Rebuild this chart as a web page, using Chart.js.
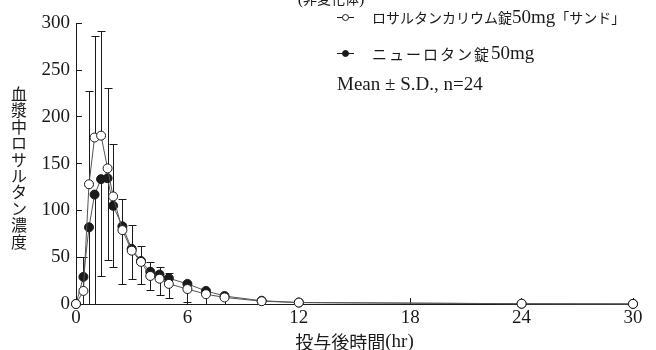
<!DOCTYPE html>
<html lang="ja">
<head>
<meta charset="utf-8">
<title>血漿中ロサルタン濃度</title>
<script src="https://cdn.jsdelivr.net/npm/chart.js@4.4.1/dist/chart.umd.min.js"></script>
<style>
  html, body { margin: 0; padding: 0; background: #fff; }
  canvas { display: block; }
</style>
</head>
<body>
<canvas id="pk_chart" width="656" height="350"></canvas>
<script>
// sampling times (hr)
const times = [0, 0.4, 0.7, 1, 1.35, 1.7, 2, 2.5, 3, 3.5, 4, 4.5, 5, 6, 7, 8, 10, 12, 24, 30];

// ロサルタンカリウム錠50mg「サンド」 (open circles, +SD)
const sandoMean = [0, 14, 128, 178, 180, 145, 115, 79, 57, 45, 30, 27, 21.5, 16, 10.5, 7, 3, 1.5, 0.3, 0.1];
const sandoSD = [0, 36, 100, 109, 112, 86, 56, 33, 27, 17, 15, 13, 12, 5, 3, 2, 1.5, 1, 0.3, 0.2];

// ニューロタン錠50mg (filled circles, -SD)
const neurotanMean = [0, 29, 82, 117, 133.5, 134.5, 105, 83, 59, 46, 34.5, 31.5, 27.5, 21.5, 14, 8.5, 3.5, 1.6, 0.3, 0.1];
const neurotanSD = [0, 32, 95, 125, 104, 87, 65, 62, 32, 25, 20, 21.5, 21, 19.5, 14, 8.5, 3, 1.5, 0.3, 0.2];

const xTicks = [0, 6, 12, 18, 24, 30];
const yTicks = [0, 50, 100, 150, 200, 250, 300];

const seriesLabels = ["ロサルタンカリウム錠50mg「サンド」", "ニューロタン錠50mg"];
const noteText = "Mean ± S.D., n=24";
const topTitle = "(非変化体)";
const xTitle = "投与後時間(hr)";
const yTitle = "血漿中ロサルタン濃度";

const latinFont = "'Liberation Serif', serif";
const cjkFont = "'Noto Sans CJK JP', sans-serif";
const ink = "#1a1a1a";

// write a string whose latin part is serif and japanese part is CJK
function drawMixed(ctx, text, x, y, opt) {
  const runs = text.match(/[\x20-\x7E±]+|[^\x20-\x7E±]+/g);
  const fontOf = (r) => (/^[\x20-\x7E±]/.test(r) ? opt.latin + "px " + latinFont : opt.cjk + "px " + cjkFont);
  const gap = opt.spacing || 0;
  const widthOf = (r) => {
    ctx.font = fontOf(r);
    if (/^[\x20-\x7E±]/.test(r)) return ctx.measureText(r).width;
    return [...r].reduce((w, ch) => w + ctx.measureText(ch).width + gap, 0);
  };
  const total = runs.reduce((w, r) => w + widthOf(r), 0);
  let cx = opt.align === "center" ? x - total / 2 : x;
  ctx.textAlign = "left";
  runs.forEach((r) => {
    ctx.font = fontOf(r);
    if (/^[\x20-\x7E±]/.test(r)) {
      ctx.fillText(r, cx, y);
      cx += ctx.measureText(r).width;
    } else {
      [...r].forEach((ch) => {
        ctx.fillText(ch, cx, y);
        cx += ctx.measureText(ch).width + gap;
      });
    }
  });
}

// error bars: sando goes up, neurotan goes down
const errorBars = {
  id: "errorBars",
  beforeDatasetsDraw(chart) {
    const { ctx, chartArea, scales } = chart;
    ctx.save();
    ctx.beginPath();
    ctx.rect(chartArea.left, chartArea.top, chartArea.width, chartArea.height + 1);
    ctx.clip();
    ctx.strokeStyle = ink;
    ctx.lineWidth = 1;
    const sets = [
      { mean: sandoMean, sd: sandoSD, dir: 1 },
      { mean: neurotanMean, sd: neurotanSD, dir: -1 },
    ];
    sets.forEach((s) => {
      times.forEach((t, i) => {
        if (!s.sd[i]) return;
        const x = Math.round(scales.x.getPixelForValue(t)) + 0.5;
        const y0 = scales.y.getPixelForValue(s.mean[i]);
        const y1 = Math.round(scales.y.getPixelForValue(s.mean[i] + s.dir * s.sd[i])) + 0.5;
        ctx.beginPath();
        ctx.moveTo(x, y0);
        ctx.lineTo(x, y1);
        ctx.moveTo(x - 4, y1);
        ctx.lineTo(x + 4, y1);
        ctx.stroke();
      });
    });
    ctx.restore();
  },
};

// legend, note, axis titles and the cut-off heading
const extraText = {
  id: "extraText",
  afterDraw(chart) {
    const { ctx, chartArea } = chart;
    ctx.save();
    ctx.fillStyle = ink;
    ctx.strokeStyle = ink;
    ctx.textBaseline = "middle";

    const rows = [
      { y: 17, cjk: 14, spacing: 0 },
      { y: 53, cjk: 15, spacing: 2 },
    ];
    chart.data.datasets.forEach((ds, i) => {
      const row = rows[i];
      ctx.lineWidth = 1;
      ctx.beginPath();
      ctx.moveTo(337, row.y + 0.5);
      ctx.lineTo(354, row.y + 0.5);
      ctx.stroke();
      ctx.beginPath();
      ctx.arc(345.5, row.y + 0.5, 3, 0, Math.PI * 2);
      ctx.fillStyle = ds.pointBackgroundColor;
      ctx.fill();
      ctx.stroke();
      ctx.fillStyle = ink;
      drawMixed(ctx, ds.label, 372, row.y + 1, { cjk: row.cjk, latin: 19, spacing: row.spacing });
    });
    drawMixed(ctx, noteText, 337, 85, { cjk: 15, latin: 19 });

    // x title
    drawMixed(ctx, xTitle, (chartArea.left + chartArea.right) / 2, 342, { cjk: 18, latin: 19, align: "center" });

    // y title, one character per line
    ctx.font = "16px " + cjkFont;
    ctx.textAlign = "center";
    [...yTitle].forEach((ch, i) => {
      ctx.fillText(ch, 19, 94 + i * 16.4);
    });

    ctx.textBaseline = "alphabetic";
    drawMixed(ctx, topTitle, 331, 4, { cjk: 14, latin: 16, align: "center" });
    ctx.restore();
  },
};

const ctx = document.getElementById("pk_chart");

const chart = new Chart(ctx, {
  type: "line",
  data: {
    datasets: [
      {
        label: seriesLabels[0],
        data: times.map((t, i) => ({ x: t, y: sandoMean[i] })),
        borderColor: "#555",
        borderWidth: 1,
        pointRadius: 4.5,
        pointBorderWidth: 1,
        pointBorderColor: ink,
        pointBackgroundColor: "#ffffff",
        tension: 0,
      },
      {
        label: seriesLabels[1],
        data: times.map((t, i) => ({ x: t, y: neurotanMean[i] })),
        borderColor: "#555",
        borderWidth: 1,
        pointRadius: 4.5,
        pointBorderWidth: 1,
        pointBorderColor: ink,
        pointBackgroundColor: ink,
        tension: 0,
      },
    ],
  },
  options: {
    responsive: false,
    animation: false,
    clip: false,
    layout: { padding: { top: 14, right: 23, left: 0, bottom: 0 } },
    plugins: {
      legend: { display: false },
      tooltip: { enabled: false },
    },
    scales: {
      x: {
        type: "linear",
        min: 0,
        max: 30,
        afterFit(scale) { scale.height = 46; },
        afterBuildTicks(scale) { scale.ticks = xTicks.map((v) => ({ value: v })); },
        border: { display: true, color: ink, width: 1 },
        grid: { drawOnChartArea: false, drawTicks: true, tickLength: -6, color: ink },
        ticks: { color: ink, padding: 9, maxRotation: 0, font: { family: latinFont, size: 19 } },
      },
      y: {
        type: "linear",
        min: 0,
        max: 300,
        afterFit(scale) { scale.width = 76; },
        afterBuildTicks(scale) { scale.ticks = yTicks.map((v) => ({ value: v })); },
        border: { display: true, color: ink, width: 1 },
        grid: { drawOnChartArea: false, drawTicks: true, tickLength: -6, color: ink },
        ticks: { color: ink, padding: 12, font: { family: latinFont, size: 19 } },
      },
    },
  },
  plugins: [errorBars, extraText],
});
</script>
</body>
</html>
